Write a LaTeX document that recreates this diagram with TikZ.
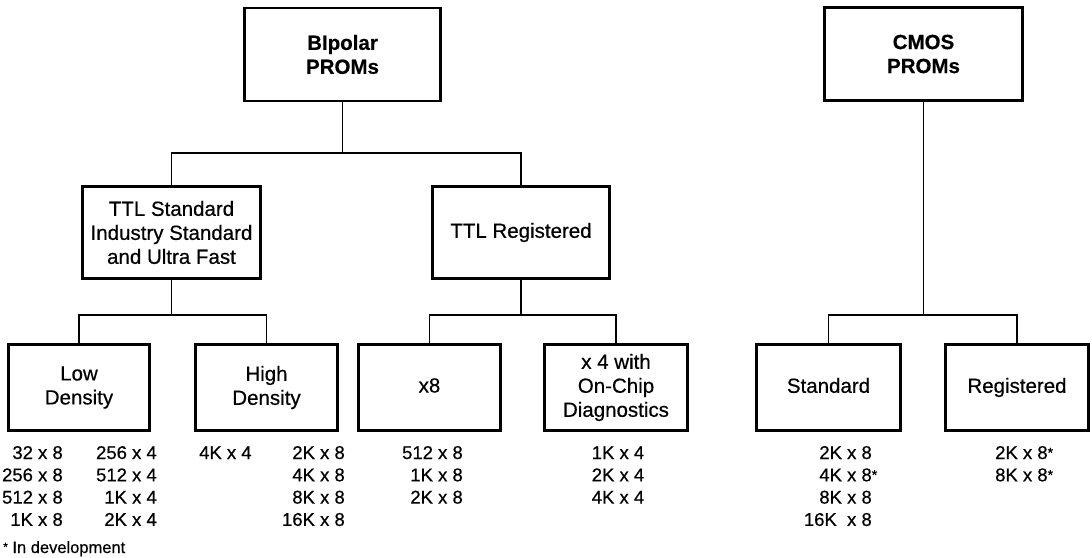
\documentclass[tikz,border=0pt]{standalone}
\usepackage{fontspec}
\setmainfont{Liberation Sans}[FakeBold=0.5]
\newcommand{\stardev}{\rlap{\fontsize{14}{14}\selectfont\raisebox{1.5pt}{*}}}
\begin{document}
\begin{tikzpicture}[x=1pt,y=-1pt,
  box/.style={draw, line width=2.7pt, inner sep=0pt, align=center,
    font=\fontsize{20.5}{24}\selectfont},
  title/.style={box, font=\fontsize{20.5}{24}\selectfont\bfseries},
  conn/.style={line width=1.6pt},
  lst/.style={inner sep=0pt, font=\fontsize{18.5}{22.3}\selectfont}]
\useasboundingbox (0,0) rectangle (1092,557);
% level 0
\node[title, minimum width=196pt, minimum height=93pt] (bip) at (342.5,54.5) {BIpolar\\PROMs};
\node[title, minimum width=198pt, minimum height=93pt] (cmos) at (923.5,54) {CMOS\\PROMs};
% level 1
\node[box, minimum width=178pt, minimum height=92pt] (ttls) at (171.5,232.5) {TTL Standard\\Industry Standard\\and Ultra Fast};
\node[box, minimum width=177pt, minimum height=92pt] (ttlr) at (521,232.5) {TTL Registered};
% level 2
\node[box, minimum width=141pt, minimum height=86pt] (low) at (79,387.5) {Low\\Density};
\node[box, minimum width=142pt, minimum height=86pt] (high) at (266.5,387.5) {High\\Density};
\node[box, minimum width=142pt, minimum height=86pt] (x8) at (429.5,387.5) {x8\vphantom{g}};
\node[box, minimum width=143pt, minimum height=86pt] (x4) at (616,387.5) {x 4 with\\On-Chip\\Diagnostics};
\node[box, minimum width=144pt, minimum height=86pt] (std) at (828.5,387.5) {Standard\vphantom{g}};
\node[box, minimum width=143pt, minimum height=86pt] (reg) at (1017,387.5) {Registered};
% junction levels
\coordinate (h1) at (0,153);
\coordinate (h2) at (0,315);
% connectors
\draw[conn] (bip.south) -- (bip.south |- h1);
\draw[conn] (ttls.north) |- (bip.south |- h1) -| (ttlr.north);
\draw[conn] (ttls.south) -- (ttls.south |- h2);
\draw[conn] (low.north) |- (ttls.south |- h2) -| (high.north);
\draw[conn] (ttlr.south) -- (ttlr.south |- h2);
\draw[conn] (x8.north) |- (ttlr.south |- h2) -| (x4.north);
\draw[conn] (cmos.south) -- (cmos.south |- h2);
\draw[conn] (std.north) |- (cmos.south |- h2) -| (reg.north);
% lists
\node[lst, anchor=base east] (ll1) at (63,459) {\begin{tabular}[t]{@{}r@{}}32 x 8\\256 x 8\\512 x 8\\1K x 8\end{tabular}};
\node[lst, anchor=base east] (ll2) at (157,459) {\begin{tabular}[t]{@{}r@{}}256 x 4\\512 x 4\\1K x 4\\2K x 4\end{tabular}};
\node[lst, anchor=base west] (hl1) at (199,459) {4K x 4};
\node[lst, anchor=base east] (hl2) at (345,459) {\begin{tabular}[t]{@{}r@{}}2K x 8\\4K x 8\\8K x 8\\16K x 8\end{tabular}};
\node[lst, anchor=base east] (x8l) at (463,459) {\begin{tabular}[t]{@{}r@{}}512 x 8\\1K x 8\\2K x 8\end{tabular}};
\node[lst, anchor=base] (x4l) at (618,459) {\begin{tabular}[t]{@{}c@{}}1K x 4\\2K x 4\\4K x 4\end{tabular}};
\node[lst, anchor=base east] (stdl) at (872,459) {\begin{tabular}[t]{@{}r@{}}2K x 8\\4K x 8\stardev\\8K x 8\\16K\ \ x 8\end{tabular}};
\node[lst, anchor=base west] (regl) at (995,459) {\begin{tabular}[t]{@{}l@{}}2K x 8\stardev\\8K x 8\stardev\end{tabular}};
\node[inner sep=0pt, anchor=base west, font=\fontsize{16.5}{18}\selectfont] (note) at (3,553) {\raisebox{2pt}{\fontsize{12}{12}\selectfont *} In development};
\end{tikzpicture}
\end{document}
